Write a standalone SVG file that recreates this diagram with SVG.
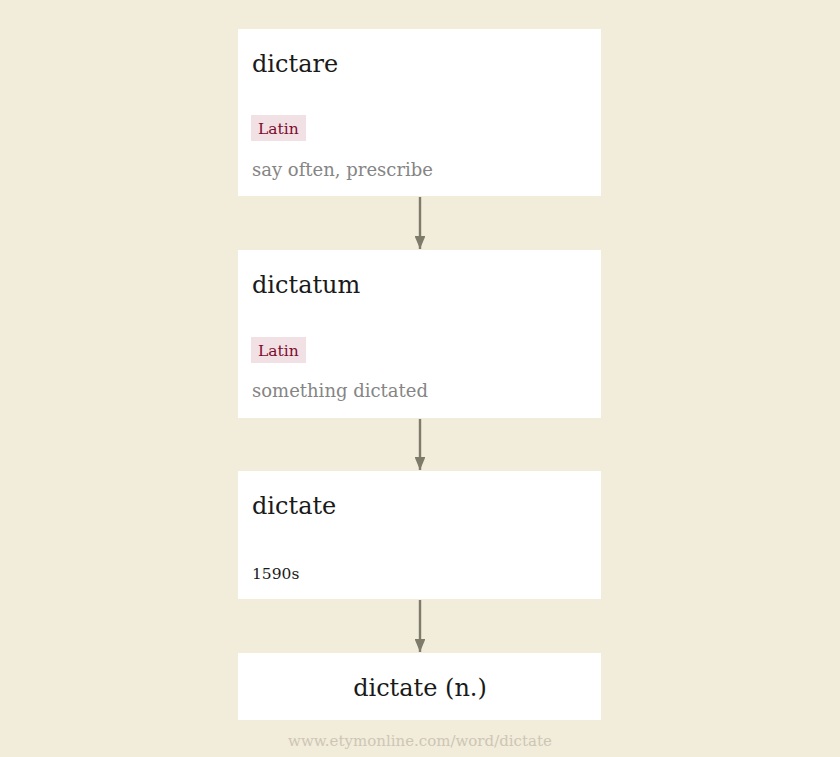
<svg xmlns="http://www.w3.org/2000/svg" width="840" height="757" viewBox="0 0 840 757">
<defs>
<style>
.box{fill:#ffffff;}
.title{font-family:"DejaVu Serif",serif;font-size:24px;fill:#1a1a1a;}
.tag{fill:#f1e1e4;}
.tagt{font-family:"DejaVu Serif",serif;font-size:15.5px;fill:#7d0b2c;}
.gloss{font-family:"DejaVu Serif",serif;font-size:18px;fill:#858585;}
.date{font-family:"DejaVu Serif",serif;font-size:15.5px;fill:#1a1a1a;}
.edge{stroke:#7f7b6a;stroke-width:2.4;fill:none;}
.foot{font-family:"DejaVu Serif",serif;font-size:15px;fill:#cdc6b4;}
</style>
<marker id="arr" viewBox="0 0 12 10" refX="12" refY="5" markerWidth="5.5" markerHeight="4.5" orient="auto" markerUnits="strokeWidth">
<path d="M0,0 L12,5 L0,10 z" fill="#7f7b6a"/>
</marker>
</defs>
<rect width="840" height="757" fill="#f2ecdb"/>
<g id="connectors">
<line class="edge" x1="420" y1="197" x2="420" y2="249" marker-end="url(#arr)"/>
<line class="edge" x1="420" y1="419" x2="420" y2="470" marker-end="url(#arr)"/>
<line class="edge" x1="420" y1="600" x2="420" y2="652" marker-end="url(#arr)"/>
</g>
<g id="n-dictare">
<rect class="box" x="238" y="29" width="363" height="167"/>
<text class="title" x="252" y="72">dictare</text>
<rect class="tag" x="251" y="115" width="55" height="26"/>
<text class="tagt" x="258" y="134">Latin</text>
<text class="gloss" x="252" y="176">say often, prescribe</text>
</g>
<g id="n-dictatum">
<rect class="box" x="238" y="250" width="363" height="168"/>
<text class="title" x="252" y="293">dictatum</text>
<rect class="tag" x="251" y="337" width="55" height="26"/>
<text class="tagt" x="258" y="356">Latin</text>
<text class="gloss" x="252" y="397">something dictated</text>
</g>
<g id="n-dictate">
<rect class="box" x="238" y="471" width="363" height="128"/>
<text class="title" x="252" y="514">dictate</text>
<text class="date" x="252" y="579">1590s</text>
</g>
<g id="n-dictate-n">
<rect class="box" x="238" y="653" width="363" height="67"/>
<text class="title" x="420" y="696" text-anchor="middle">dictate (n.)</text>
</g>
<text class="foot" x="420" y="746" text-anchor="middle">www.etymonline.com/word/dictate</text>
</svg>
